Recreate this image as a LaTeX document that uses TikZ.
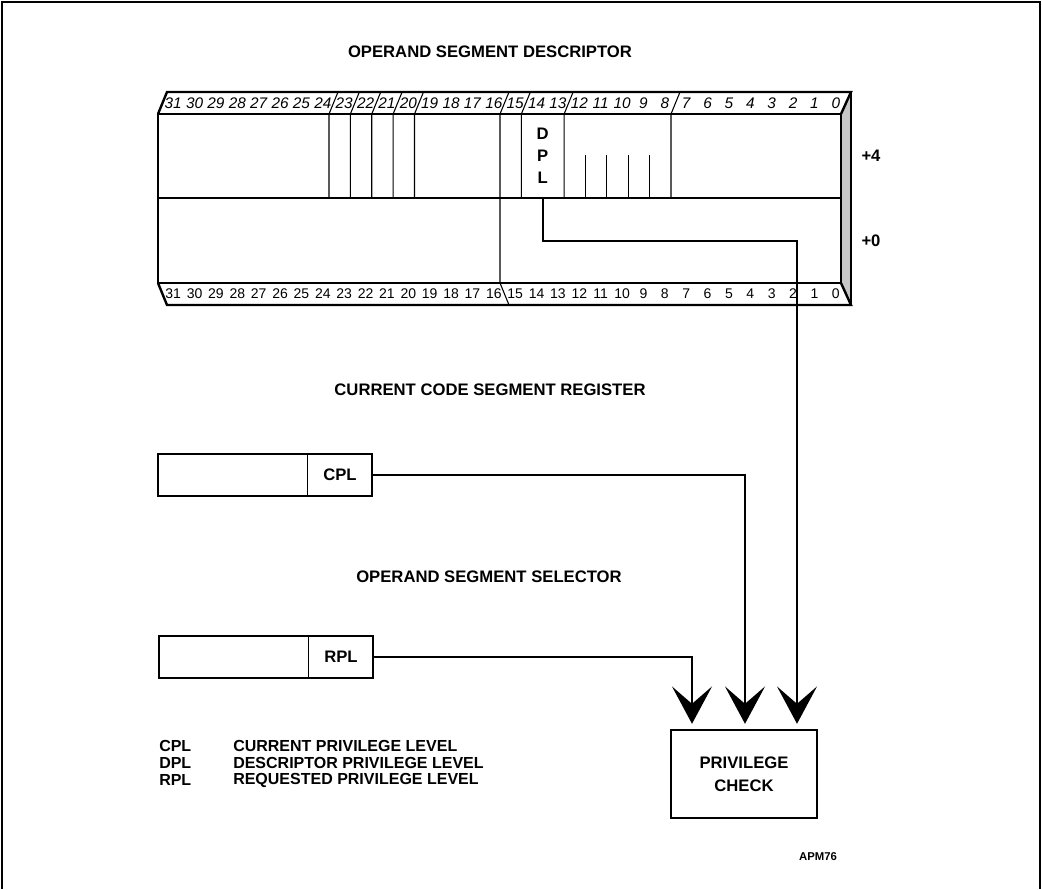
\documentclass[tikz,border=0pt]{standalone}
\usepackage{fontspec}
\setmainfont{Liberation Sans}
\usetikzlibrary{arrows.meta,positioning,calc}
\definecolor{sideface}{HTML}{C8C8C8}
\def\bw{21.375}

\begin{document}
\begin{tikzpicture}[x=0.75pt,y=-0.75pt,
  lbl/.style={font=\bfseries\fontsize{12.5}{15}\selectfont,inner sep=0pt},
  keylbl/.style={font=\bfseries\fontsize{12}{14}\selectfont,inner sep=0pt,anchor=west},
  bittop/.style={font=\itshape\fontsize{11.5}{13}\selectfont,inner sep=0pt},
  bitbot/.style={font=\fontsize{10.5}{12}\selectfont,inner sep=0pt},
  frameline/.style={line width=1.8pt,line join=miter},
  fieldsep/.style={line width=0.8pt},
  conn/.style={line width=1.3pt},
  arr/.style={conn,shorten >=3.75pt,-{Stealth[length=28pt,width=30pt,inset=13pt]}},
  regbox/.style={draw,line width=1.8pt,minimum width=160.5pt,minimum height=31.5pt,inner sep=0pt}]
\useasboundingbox (0,0) rectangle (1042,889);
\draw[line width=2pt] (2,889) -- (2,2) -- (1040,2) -- (1040,889);

\node[lbl] (desctitle) at (490,52) {OPERAND SEGMENT DESCRIPTOR};
\fill[sideface] (841,114) -- (851,92) -- (851,305) -- (841,283) -- cycle;
\draw[frameline] (158,114) rectangle (841,283);
\draw[frameline] (158,114) -- (167,92) -- (851,92) -- (841,114);
\draw[frameline] (158,283) -- (167,305) -- (851,305) -- (841,283);
\draw[frameline] (851,92) -- (851,305);
\draw[frameline] (158,198) -- (841,198);
\foreach \k in {24,23,22,21,20,15,13,8}
  \draw[fieldsep] ({158+(32-\k)*\bw},198) -- ++(0,-84) -- ++(9,-22);
\draw[fieldsep] ({158+16*\bw},283) -- ++(0,-169) -- ++(9,-22);
\draw[fieldsep] ({158+16*\bw},283) -- ++(9,22);
\foreach \k in {12,11,10,9}
  \draw[fieldsep] ({158+(32-\k)*\bw},155) -- ++(0,43);
\foreach \i in {0,...,31} {
  \node[bittop] (t\i) at ({158+(31.5-\i)*\bw+4.5},103) {\i};
  \node[bitbot] (b\i) at ({158+(31.5-\i)*\bw+4.5},294) {\i};
}
\node[lbl,align=center,font=\bfseries\fontsize{12.5}{16.5}\selectfont,minimum width=32pt,minimum height=63pt] (dpl) at ({158+18*\bw},156) {D\\P\\L};
\node[lbl] (off4) at (871,156) {+4};
\node[lbl] (off0) at (871,241) {+0};

\node[lbl] (csrtitle) at (490,390) {CURRENT CODE SEGMENT REGISTER};
\node[regbox] (csr) at (265,475) {};
\node[lbl,minimum width=48pt,minimum height=31.5pt] (cpl) at (340,475) {CPL};
\draw[fieldsep] (cpl.north west) -- (cpl.south west);

\node[lbl] (seltitle) at (489,577) {OPERAND SEGMENT SELECTOR};
\node[regbox] (sel) at (266,657) {};
\node[lbl,minimum width=48pt,minimum height=31.5pt] (rpl) at (341,657) {RPL};
\draw[fieldsep] (rpl.north west) -- (rpl.south west);

\node[lbl,draw,line width=1.8pt,align=center,font=\bfseries\fontsize{12.5}{17}\selectfont,minimum width=109.5pt,minimum height=66pt] (check) at (744,774) {PRIVILEGE\\CHECK};

\coordinate (dplbend) at (797,241);
\coordinate (cplbend) at (745,475);
\coordinate (rplbend) at (692,657);
\draw[arr] (dpl.south) |- (dplbend) -- (dplbend |- check.north);
\draw[arr] (csr.east) -- (cplbend) -- (cplbend |- check.north);
\draw[arr] (sel.east) -- (rplbend) -- (rplbend |- check.north);

\node[keylbl] (kcpl) at (159,746) {CPL};
\node[keylbl] (tcpl) at (233,746) {CURRENT PRIVILEGE LEVEL};
\node[keylbl] (kdpl) at (159,763) {DPL};
\node[keylbl] (tdpl) at (233,763) {DESCRIPTOR PRIVILEGE LEVEL};
\node[keylbl] (krpl) at (159,780) {RPL};
\node[keylbl] (trpl) at (233,780) {REQUESTED PRIVILEGE LEVEL};

\node[font=\bfseries\fontsize{8.5}{10}\selectfont] (figid) at (818,857) {APM76};
\end{tikzpicture}
\end{document}
